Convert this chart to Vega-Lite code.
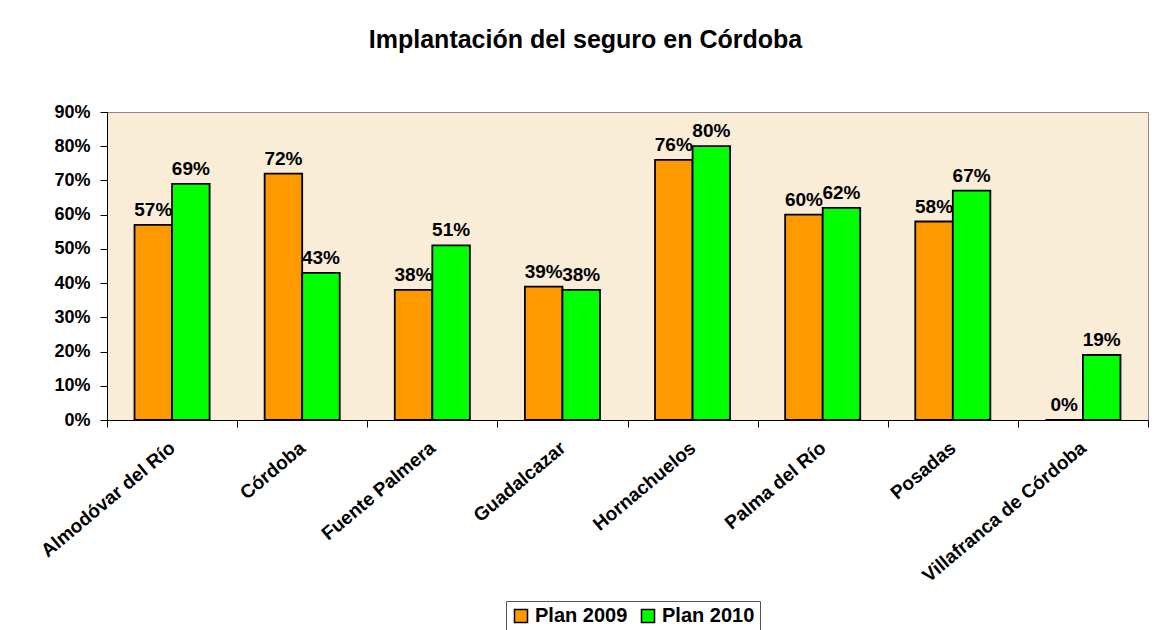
{
  "$schema": "https://vega.github.io/schema/vega-lite/v6.json",
  "width": 1041,
  "height": 308,
  "autosize": {"type": "none"},
  "padding": {"left": 107, "top": 112, "right": 6, "bottom": 210},
  "background": "white",
  "title": {
    "text": "Implantación del seguro en Córdoba",
    "font": "Liberation Sans",
    "fontSize": 25,
    "fontWeight": "bold",
    "color": "black",
    "anchor": "middle",
    "baseline": "alphabetic",
    "offset": 30,
    "dx": -42
  },
  "data": {
    "values": [
      {"municipio": "Almodóvar del Río", "plan": "Plan 2009", "value": 0.57},
      {"municipio": "Almodóvar del Río", "plan": "Plan 2010", "value": 0.69},
      {"municipio": "Córdoba", "plan": "Plan 2009", "value": 0.72},
      {"municipio": "Córdoba", "plan": "Plan 2010", "value": 0.43},
      {"municipio": "Fuente Palmera", "plan": "Plan 2009", "value": 0.38},
      {"municipio": "Fuente Palmera", "plan": "Plan 2010", "value": 0.51},
      {"municipio": "Guadalcazar", "plan": "Plan 2009", "value": 0.39},
      {"municipio": "Guadalcazar", "plan": "Plan 2010", "value": 0.38},
      {"municipio": "Hornachuelos", "plan": "Plan 2009", "value": 0.76},
      {"municipio": "Hornachuelos", "plan": "Plan 2010", "value": 0.80},
      {"municipio": "Palma del Río", "plan": "Plan 2009", "value": 0.60},
      {"municipio": "Palma del Río", "plan": "Plan 2010", "value": 0.62},
      {"municipio": "Posadas", "plan": "Plan 2009", "value": 0.58},
      {"municipio": "Posadas", "plan": "Plan 2010", "value": 0.67},
      {"municipio": "Villafranca de Córdoba", "plan": "Plan 2009", "value": 0.0},
      {"municipio": "Villafranca de Córdoba", "plan": "Plan 2010", "value": 0.19}
    ]
  },
  "encoding": {
    "x": {
      "field": "municipio",
      "type": "nominal",
      "sort": null,
      "scale": {"paddingInner": 0, "paddingOuter": 0},
      "axis": {
        "title": null,
        "labelAngle": -40,
        "labelAlign": "right",
        "labelBaseline": "middle",
        "labelFont": "Liberation Sans",
        "labelFontSize": 19,
        "labelFontWeight": "bold",
        "labelColor": "black",
        "labelPadding": 18,
        "tickBand": "extent",
        "tickSize": 7,
        "tickColor": "black",
        "domainColor": "black",
        "labelLimit": 300
      }
    },
    "xOffset": {
      "field": "plan",
      "type": "nominal",
      "scale": {"paddingInner": 0, "paddingOuter": 0.733}
    },
    "y": {
      "field": "value",
      "type": "quantitative",
      "scale": {"domain": [0, 0.9], "nice": false},
      "axis": {
        "title": null,
        "format": ".0%",
        "values": [0, 0.1, 0.2, 0.3, 0.4, 0.5, 0.6, 0.7, 0.8, 0.9],
        "grid": false,
        "labelFont": "Liberation Sans",
        "labelFontSize": 18,
        "labelFontWeight": "bold",
        "labelColor": "black",
        "labelPadding": 10,
        "tickSize": 7,
        "tickColor": "black",
        "domainColor": "black"
      }
    },
    "color": {
      "field": "plan",
      "type": "nominal",
      "scale": {"domain": ["Plan 2009", "Plan 2010"], "range": ["#FF9900", "#00FF00"]},
      "legend": {
        "title": null,
        "orient": "none",
        "legendX": 399,
        "legendY": 489,
        "direction": "horizontal",
        "symbolType": "square",
        "symbolSize": 169,
        "symbolStrokeColor": "black",
        "symbolStrokeWidth": 1.5,
        "labelFont": "Liberation Sans",
        "labelFontSize": 20,
        "labelFontWeight": "bold",
        "labelColor": "black",
        "strokeColor": "#555",
        "fillColor": "white",
        "padding": 5,
        "columnPadding": 10,
        "labelOffset": 4
      }
    }
  },
  "layer": [
    {"mark": {"type": "bar", "stroke": "black", "strokeWidth": 1.8}},
    {
      "mark": {
        "type": "text",
        "font": "Liberation Sans",
        "fontSize": 19,
        "fontWeight": "bold",
        "color": "black",
        "baseline": "alphabetic",
        "dy": -9
      },
      "encoding": {
        "text": {"field": "value", "type": "quantitative", "format": ".0%"},
        "color": {"value": "black"}
      }
    }
  ],
  "config": {
    "view": {"fill": "#F9EDD8", "stroke": "#888", "strokeWidth": 1}
  }
}
